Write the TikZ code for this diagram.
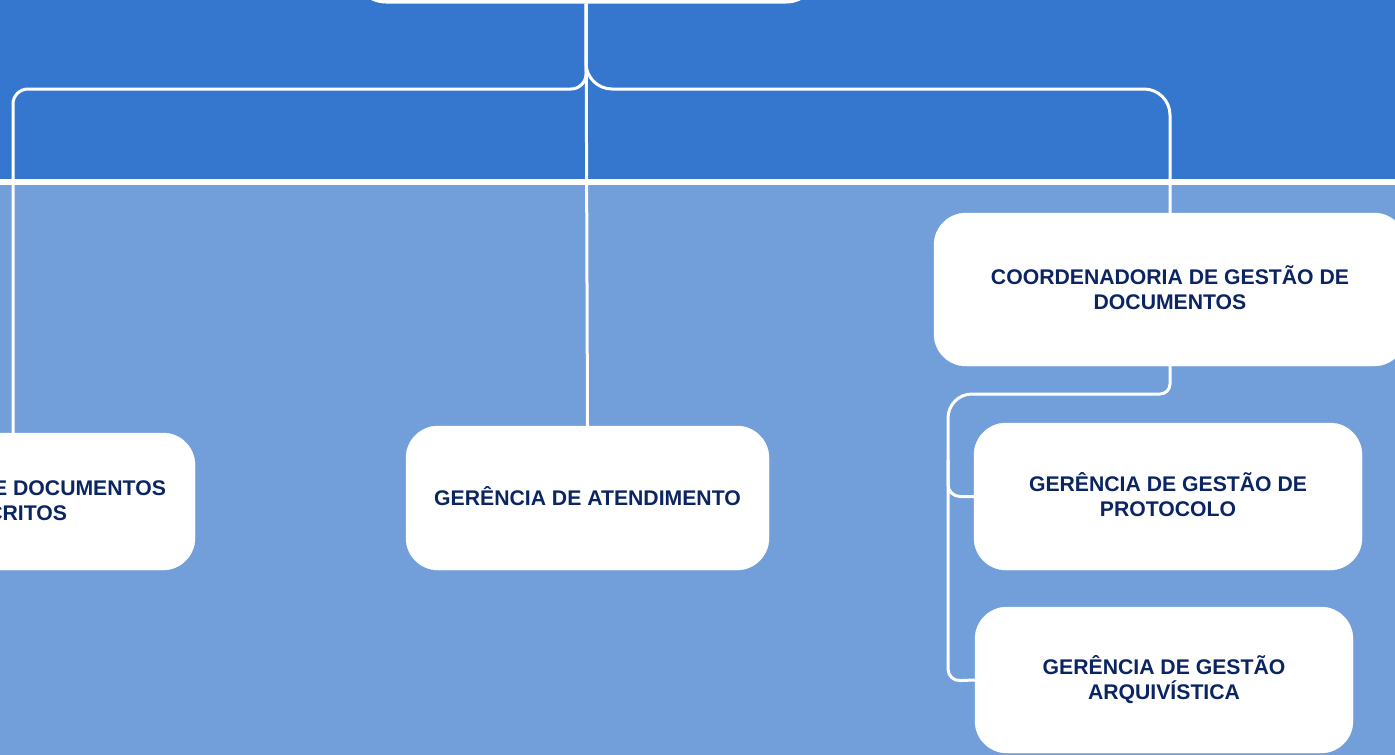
\documentclass[tikz,border=0pt]{standalone}
\usepackage{fontspec}
\setmainfont{Liberation Sans}
\definecolor{darkband}{HTML}{3576CE}
\definecolor{lightband}{HTML}{729FDA}
\definecolor{navytext}{HTML}{0B2562}
\begin{document}
\begin{tikzpicture}[x=1pt,y=-1pt,
  orgbox/.style={draw=white, fill=white, rounded corners=32pt, inner sep=0pt,
    align=center, text=navytext, font=\bfseries\fontsize{21.2}{25}\selectfont},
  lift/.style={text depth=#1},
  conn/.style={draw=white, line width=3pt}]
\useasboundingbox (0,0) rectangle (1395,755);
\clip (0,0) rectangle (1395,755);
% bands
\fill[darkband] (0,0) rectangle (1395,182);
\fill[lightband] (0,182) rectangle (1395,755);
\draw[white, line width=6pt] (0,182) -- (1395,182);
% nodes
\node[orgbox, minimum width=464pt, minimum height=204pt, line width=3pt] (top) at (586,-100) {};
\node[orgbox, lift=7pt, minimum width=364pt, minimum height=137pt] (docs) at (13,501.5) {GERÊNCIA DE DOCUMENTOS\\ESCRITOS};
\node[orgbox, lift=5pt, minimum width=363pt, minimum height=144pt] (atend) at (587.5,498) {GERÊNCIA DE ATENDIMENTO};
\node[orgbox, lift=4pt, minimum width=472pt, minimum height=153pt] (coord) at (1170,289.5) {COORDENADORIA DE GESTÃO DE\\DOCUMENTOS};
\node[orgbox, lift=4pt, minimum width=388pt, minimum height=147pt] (prot) at (1168,496.5) {GERÊNCIA DE GESTÃO DE\\PROTOCOLO};
\node[orgbox, minimum width=378pt, minimum height=146pt] (arq) at (1164,680) {GERÊNCIA DE GESTÃO\\ARQUIVÍSTICA};
% bus coordinates
\coordinate (busL) at (13,89);
\coordinate (busR) at (1170,89);
\coordinate (subA) at (1170,394);
\coordinate (subB) at (948,394);
\coordinate (subC) at (948,681);
\coordinate (subD) at (948,460);
% connectors
\draw[conn] (top.south) -- (atend.north);
\draw[conn, rounded corners=15pt] (top.south) |- (busL) -- (docs.north);
\draw[conn, rounded corners=26pt] (top.south) |- (busR) -- (coord.north);
\draw[conn] (coord.south) [rounded corners=10pt] -- (subA) [rounded corners=24pt] -- (subB) [rounded corners=12pt] -- (subC) -- (arq.west);
\draw[conn, rounded corners=12pt] (subD) |- (prot.west);
\end{tikzpicture}
\end{document}
